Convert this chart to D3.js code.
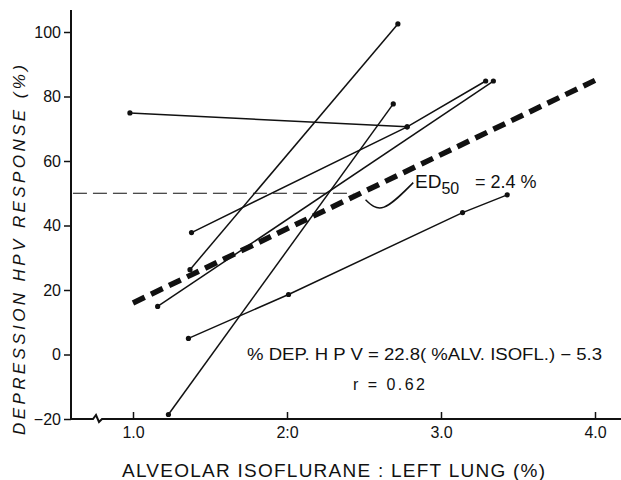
<!DOCTYPE html>
<html>
<head>
<meta charset="utf-8">
<script src="https://cdn.jsdelivr.net/npm/d3@7"></script>
<style>
html,body{margin:0;padding:0;background:#fff;}
svg{display:block;}
text{font-family:"Liberation Sans","DejaVu Sans",sans-serif;fill:#111;}
</style>
</head>
<body>
<svg id="chart" width="621" height="480"></svg>
<script>
// ---- data ----
const xTicks = [1, 2, 3, 4];
const xTickLabels = ["1.0", "2:0", "3.0", "4.0"];
const yTicks = [-20, 0, 20, 40, 60, 80, 100];
const subjects = [
  [[0.98, 74.9], [2.78, 70.6]],
  [[1.38, 37.8], [2.78, 70.6], [3.29, 84.8]],
  [[1.16, 14.9], [3.34, 84.8]],
  [[1.37, 26.3], [2.72, 102.5]],
  [[1.23, -18.6], [2.69, 77.7]],
  [[1.36, 5.0], [2.01, 18.6], [3.14, 44.0], [3.43, 49.5]]
];
const regX = [1.0, 4.0];
const regY = [16, 85];
const ed50X = [0.61, 2.43];
const ed50Y = 50;
const leader = [[2.51, 48], [2.63, 45.7], [2.82, 53.3]];
const xLabel = "ALVEOLAR ISOFLURANE : LEFT LUNG (%)";
const yLabel = "DEPRESSION HPV RESPONSE (%)";
const eqText = "% DEP. H P V = 22.8( %ALV. ISOFL.) \u2212 5.3";
const rText = "r = 0.62";

// ---- scales ----
const svg = d3.select("#chart");
const x = d3.scaleLinear().domain([1, 4]).range([133, 595]);
const y = d3.scaleLinear().domain([-20, 100]).range([419, 32]);
const axisX0 = 71;

// y axis
const yAxis = d3.axisLeft(y).tickValues(yTicks).tickSize(7).tickPadding(3)
  .tickFormat(d => d < 0 ? "\u2212" + Math.abs(d) : d);
const gy = svg.append("g").attr("transform", `translate(${axisX0},0)`).call(yAxis);
gy.select(".domain").remove();
gy.selectAll("line").attr("stroke", "#111").attr("stroke-width", 1.5);
gy.selectAll("text").attr("font-size", 16).attr("font-family", "Liberation Sans, sans-serif").attr("fill", "#111");
svg.append("line").attr("x1", axisX0).attr("x2", axisX0).attr("y1", y(-20)).attr("y2", 10)
  .attr("stroke", "#111").attr("stroke-width", 2);

// x axis
const xAxis = d3.axisBottom(x).tickValues(xTicks).tickSizeInner(-7).tickSizeOuter(0).tickPadding(8)
  .tickFormat((d, i) => xTickLabels[i]);
const gx = svg.append("g").attr("transform", `translate(0,${y(-20)})`).call(xAxis);
gx.select(".domain").remove();
gx.selectAll("line").attr("stroke", "#111").attr("stroke-width", 1.5);
gx.selectAll("text").attr("font-size", 16).attr("font-family", "Liberation Sans, sans-serif").attr("fill", "#111");
const y0 = y(-20);
svg.append("path")
  .attr("d", `M${axisX0},${y0} H93 L96,${y0-4} L99,${y0+3} L102,${y0} H621`)
  .attr("fill", "none").attr("stroke", "#111").attr("stroke-width", 2);

// ED50 horizontal dashed
svg.append("line")
  .attr("x1", x(ed50X[0])).attr("x2", x(ed50X[1]))
  .attr("y1", y(ed50Y)).attr("y2", y(ed50Y))
  .attr("stroke", "#111").attr("stroke-width", 1.2).attr("stroke-dasharray", "14,6");

// subject lines
const line = d3.line().x(d => x(d[0])).y(d => y(d[1]));
svg.append("g").selectAll("path").data(subjects).join("path")
  .attr("d", line).attr("fill", "none").attr("stroke", "#111").attr("stroke-width", 1.5);
svg.append("g").selectAll("circle").data(subjects.flat()).join("circle")
  .attr("cx", d => x(d[0])).attr("cy", d => y(d[1])).attr("r", 2.6).attr("fill", "#111");

// regression
svg.append("line")
  .attr("x1", x(regX[0])).attr("y1", y(regY[0]))
  .attr("x2", x(regX[1])).attr("y2", y(regY[1]))
  .attr("stroke", "#111").attr("stroke-width", 5.5).attr("stroke-dasharray", "13,7");

// leader curve
svg.append("path")
  .attr("d", d3.line().curve(d3.curveNatural).x(d => x(d[0])).y(d => y(d[1]))(leader))
  .attr("fill", "none").attr("stroke", "#111").attr("stroke-width", 1.5);

// ED50 text
const ed = svg.append("text").attr("x", 415).attr("y", 188).attr("font-size", 19);
ed.append("tspan").text("ED");
ed.append("tspan").attr("font-size", 16).attr("dy", 6).text("50");
svg.append("text").attr("x", 475).attr("y", 188).attr("font-size", 18).text("= 2.4 %");

// equation
svg.append("text").attr("x", 247).attr("y", 360).attr("font-size", 16)
  .attr("textLength", 355).attr("lengthAdjust", "spacingAndGlyphs").text(eqText);
svg.append("text").attr("x", 353).attr("y", 390).attr("font-size", 16)
  .attr("textLength", 72).attr("lengthAdjust", "spacing").text(rText);

// axis labels
svg.append("text").attr("x", 122).attr("y", 477).attr("font-size", 19)
  .attr("textLength", 423).attr("lengthAdjust", "spacing").text(xLabel);
svg.append("text").attr("transform", "translate(25,435) rotate(-90)")
  .attr("x", 0).attr("y", 0).attr("font-size", 17).attr("font-style", "italic")
  .attr("textLength", 370).attr("lengthAdjust", "spacing").text(yLabel);
</script>
</body>
</html>
